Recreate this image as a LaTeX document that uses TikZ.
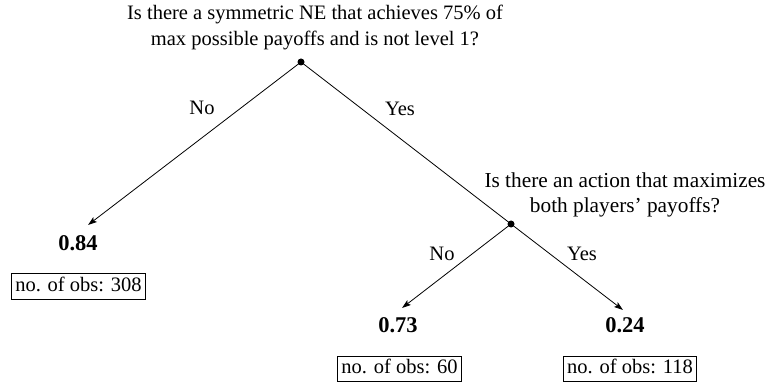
\documentclass[tikz,border=0pt]{standalone}
\usepackage{fontspec}
\setmainfont{Liberation Serif}
\usetikzlibrary{arrows.meta}
\begin{document}
\begin{tikzpicture}[x=1pt,y=-1pt,
  txt/.style={font=\fontsize{20.5}{26}\selectfont, align=center, inner sep=0pt},
  val/.style={font=\fontsize{22.5}{26}\selectfont\bfseries, inner sep=0pt},
  obs/.style={draw, line width=0.7pt, font=\fontsize{20.5}{24}\selectfont,
    inner xsep=4pt, inner ysep=3.5pt, text height=14pt, text depth=4.5pt},
  dot/.style={circle, fill=black, inner sep=0pt, minimum size=7pt},
  edge/.style={line width=0.8pt, -{Stealth[length=9pt,width=6pt,inset=2pt]}},
  plain/.style={line width=0.8pt}]
\useasboundingbox (0,0) rectangle (769,385);
\node[txt] (q1) at (315,27) {Is there a symmetric NE that achieves 75\% of\\max possible payoffs and is not level 1?};
\node[dot] (d1) at (301,62) {};
\node[txt, font=\fontsize{21.3}{25}\selectfont] (q2) at (625,195) {Is there an action that maximizes\\both players’ payoffs?};
\node[dot] (d2) at (511,224) {};
\coordinate (t1) at (88,225);
\coordinate (t2) at (402,308);
\coordinate (t3) at (623,310);
\node[val] (v1) at (78,243) {0.84};
\node[val] (v2) at (398,325) {0.73};
\node[val] (v3) at (625,325) {0.24};
\node[obs] (o1) at (78.5,286.5) {no. of obs: 308};
\node[obs] (o2) at (399.5,369) {no. of obs: 60};
\node[obs] (o3) at (630,369) {no. of obs: 118};
\draw[edge] (d1.center) -- (t1);
\draw[plain] (d1.center) -- (d2.center);
\draw[edge] (d2.center) -- (t2);
\draw[edge] (d2.center) -- (t3);
\node[txt] (l1) at (202,108) {No};
\node[txt] (l2) at (400,109) {Yes};
\node[txt] (l3) at (442,254) {No};
\node[txt] (l4) at (582,254) {Yes};
\end{tikzpicture}
\end{document}
